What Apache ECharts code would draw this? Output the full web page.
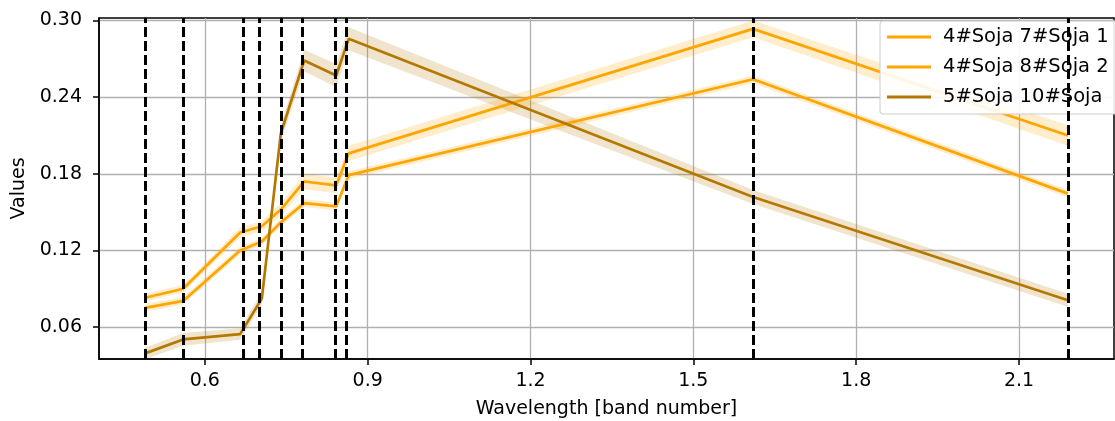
<!DOCTYPE html>
<html><head><meta charset="utf-8">
<script src="https://cdn.jsdelivr.net/npm/echarts@6/dist/echarts.min.js"></script>
<style>html,body{margin:0;padding:0;background:#fff}#c{width:1115px;height:421px}</style>
</head><body><div id="c"></div>
<script>
const wavelengths = [0.49, 0.56, 0.665, 0.705, 0.74, 0.783, 0.842, 0.865, 1.61, 2.19];
const seriesNames = ['4#Soja 7#Soja 1', '4#Soja 8#Soja 2', '5#Soja 10#Soja'];
const soja1Mean = [0.083, 0.090, 0.134, 0.139, 0.152, 0.174, 0.171, 0.196, 0.2935, 0.210];
const soja1Std  = [0.003, 0.003, 0.004, 0.004, 0.005, 0.006, 0.006, 0.006, 0.0065, 0.008];
const soja2Mean = [0.075, 0.0805, 0.120, 0.127, 0.142, 0.157, 0.1545, 0.179, 0.254, 0.1645];
const soja2Std  = [0.003, 0.003, 0.003, 0.003, 0.003, 0.003, 0.003, 0.003, 0.003, 0.003];
const soja3Mean = [0.0394, 0.0503, 0.0545, 0.0823, 0.2116, 0.2687, 0.257, 0.2857, 0.1618, 0.081];
const soja3Std  = [0.0045, 0.005, 0.0045, 0.005, 0.006, 0.0085, 0.009, 0.009, 0.0055, 0.005];
const xTicks = [0.6, 0.9, 1.2, 1.5, 1.8, 2.1];
const yTicks = [0.06, 0.12, 0.18, 0.24, 0.30];

const FONT = 'DejaVu Sans';
const ORANGE = '#ffa500';
const BROWN = '#b47800';

function band(mean, std, fill) {
  return {
    type: 'custom', silent: true, clip: true, z: 1,
    data: [[wavelengths[0], mean[0]]],
    encode: { x: 0, y: 1 },
    renderItem: function (params, api) {
      const pts = [];
      for (let i = 0; i < wavelengths.length; i++) pts.push(api.coord([wavelengths[i], mean[i] + std[i]]));
      for (let i = wavelengths.length - 1; i >= 0; i--) pts.push(api.coord([wavelengths[i], mean[i] - std[i]]));
      return { type: 'polygon', shape: { points: pts }, style: { fill: fill } };
    }
  };
}
function line(name, mean, color, extra) {
  return Object.assign({
    name: name, type: 'line', showSymbol: false, symbol: 'none', z: 3,
    data: wavelengths.map((w, i) => [w, mean[i]]),
    itemStyle: { color: color },
    lineStyle: { color: color, width: 2.7 },
    emphasis: { disabled: true }, animation: false
  }, extra || {});
}

const chart = echarts.init(document.getElementById('c'), null, { renderer: 'canvas' });
chart.setOption({
  animation: false,
  backgroundColor: '#fff',
  grid: { left: 99, right: 1, top: 18, bottom: 62, containLabel: false, outerBoundsMode: 'none',
          show: true, borderColor: '#000', borderWidth: 1.5, backgroundColor: 'transparent' },
  xAxis: {
    type: 'value', min: 0.405, max: 2.275,
    name: 'Wavelength [band number]', nameLocation: 'middle', nameGap: 41,
    nameTextStyle: { fontFamily: FONT, fontSize: 19, color: '#000' },
    axisLine: { show: true, onZero: false, lineStyle: { color: '#000', width: 1.5 } },
    axisTick: { show: true, length: 6, customValues: xTicks, lineStyle: { color: '#000', width: 1.5 } },
    axisLabel: { customValues: xTicks, margin: 13, fontFamily: FONT, fontSize: 19, color: '#000', formatter: v => v.toFixed(1) },
    splitLine: { show: true, lineStyle: { color: '#b0b0b0', width: 1.3 } }
  },
  yAxis: {
    type: 'value', min: 0.035, max: 0.302,
    name: 'Values', nameLocation: 'middle', nameGap: 68,
    nameTextStyle: { fontFamily: FONT, fontSize: 19, color: '#000' },
    axisLine: { show: true, onZero: false, lineStyle: { color: '#000', width: 1.5 } },
    axisTick: { show: true, length: 6, customValues: yTicks, lineStyle: { color: '#000', width: 1.5 } },
    axisLabel: { customValues: yTicks, margin: 17, fontFamily: FONT, fontSize: 19, color: '#000', formatter: v => v.toFixed(2) },
    splitLine: { show: true, lineStyle: { color: '#b0b0b0', width: 1.3 } }
  },
  legend: {
    data: seriesNames, orient: 'vertical', left: 880, top: 21,
    icon: 'rect', itemWidth: 44, itemHeight: 3, itemGap: 10,
    padding: [6, 30, 7, 7],
    backgroundColor: 'rgba(255,255,255,0.9)', borderColor: '#cccccc', borderWidth: 1, borderRadius: 3,
    textStyle: { fontFamily: FONT, fontSize: 19.5, color: '#000', lineHeight: 20, padding: [0, 0, 0, 7] }
  },
  series: [
    band(soja1Mean, soja1Std, 'rgba(255,165,0,0.2)'),
    band(soja2Mean, soja2Std, 'rgba(255,165,0,0.2)'),
    band(soja3Mean, soja3Std, 'rgba(184,120,0,0.2)'),
    line(seriesNames[0], soja1Mean, ORANGE),
    line(seriesNames[1], soja2Mean, ORANGE),
    line(seriesNames[2], soja3Mean, BROWN, {
      markLine: {
        silent: true, symbol: 'none', label: { show: false }, animation: false,
        lineStyle: { color: '#000', width: 3, type: [10, 4] },
        emphasis: { disabled: true },
        data: wavelengths.map(w => ({ xAxis: w }))
      }
    })
  ]
});
</script>
</body></html>
